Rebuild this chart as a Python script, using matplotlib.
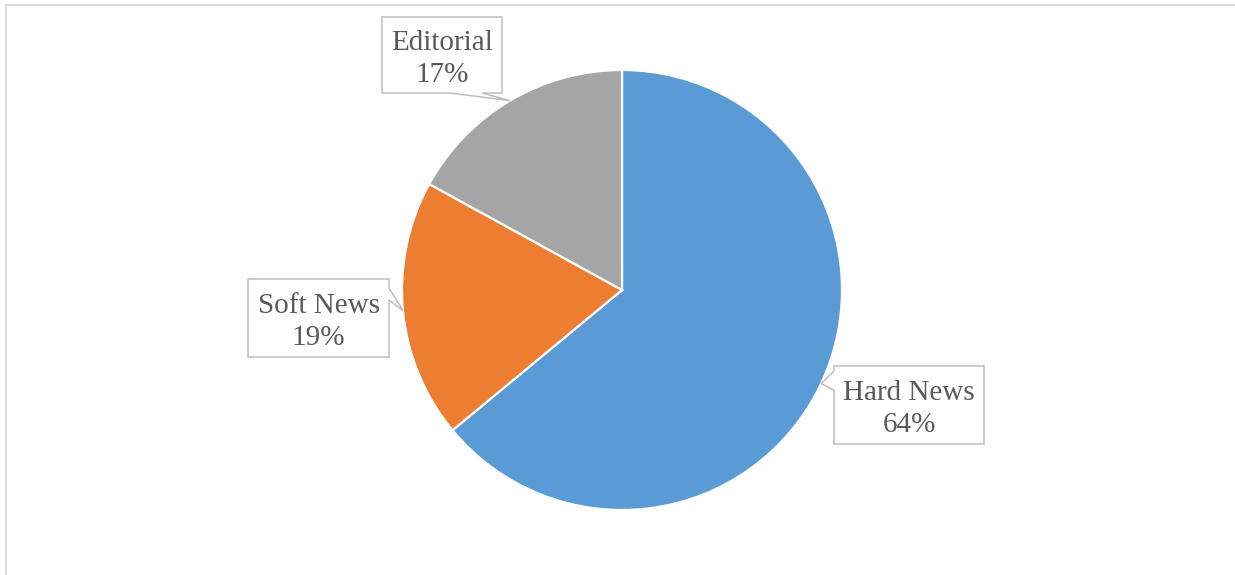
import numpy as np
import matplotlib
matplotlib.use("Agg")
import matplotlib.pyplot as plt
from matplotlib.patches import Polygon
import matplotlib.lines as mlines

categories = ["Hard News", "Soft News", "Editorial"]
shares = [64, 19, 17]
colors = ["#5B9BD5", "#ED7D31", "#A5A5A5"]

W, H = 1235, 575
CX, CY, R = 622, 290, 220

# callout boxes in pixel space (left, top, right, bottom), which side the
# pointer leaves from and where its base sits along that side
boxes = {
    "Hard News": ((834, 366, 984, 444), "left", (371, 390)),
    "Soft News": ((248, 279, 389, 357), "right", (288, 300)),
    "Editorial": ((382, 17, 502, 93), "bottom", (450, 482)),
}


def callout_vertices(rect, side, base, tip):
    l, t, r, b = rect
    if side == "left":
        pts = [(l, t), (r, t), (r, b), (l, b), (l, base[1]), tip, (l, base[0])]
    elif side == "right":
        pts = [(l, t), (r, t), (r, base[0]), tip, (r, base[1]), (r, b), (l, b)]
    else:
        pts = [(l, t), (r, t), (r, b), (base[1], b), tip, (base[0], b), (l, b)]
    return [(x, H - y) for x, y in pts]


fig = plt.figure(figsize=(W / 100, H / 100), dpi=100)
ax = fig.add_axes([0, 0, 1, 1])

wedges, _ = ax.pie(shares, colors=colors, startangle=90, counterclock=False,
                   center=(CX, H - CY), radius=R,
                   wedgeprops=dict(edgecolor="white", linewidth=1.6))

ax.set_xlim(0, W)
ax.set_ylim(0, H)
ax.set_aspect("equal")
ax.axis("off")

# chart area border (only top and left edges are visible)
ax.add_line(mlines.Line2D([6, W + 5], [H - 5, H - 5], color="#d9d9d9", lw=1.5))
ax.add_line(mlines.Line2D([6, 6], [-5, H - 5], color="#d9d9d9", lw=1.5))

total = float(sum(shares))
cum = 0.0
for name, val in zip(categories, shares):
    mid = np.deg2rad(90 - 360 * (cum + val / 2) / total)
    cum += val
    tip = (CX + R * np.cos(mid), CY - R * np.sin(mid))
    rect, side, base = boxes[name]
    poly = Polygon(callout_vertices(rect, side, base, tip), closed=True,
                   facecolor="white", edgecolor="#bfbfbf", lw=1.1, zorder=3)
    ax.add_patch(poly)
    l, t, r, b = rect
    ax.text((l + r) / 2, H - (t + b) / 2 - 4, f"{name}\n{val}%", ha="center", va="center",
            family="Liberation Serif", fontsize=21, color="#595959",
            linespacing=1.27, zorder=4)

plt.savefig("out.png", dpi=100)
